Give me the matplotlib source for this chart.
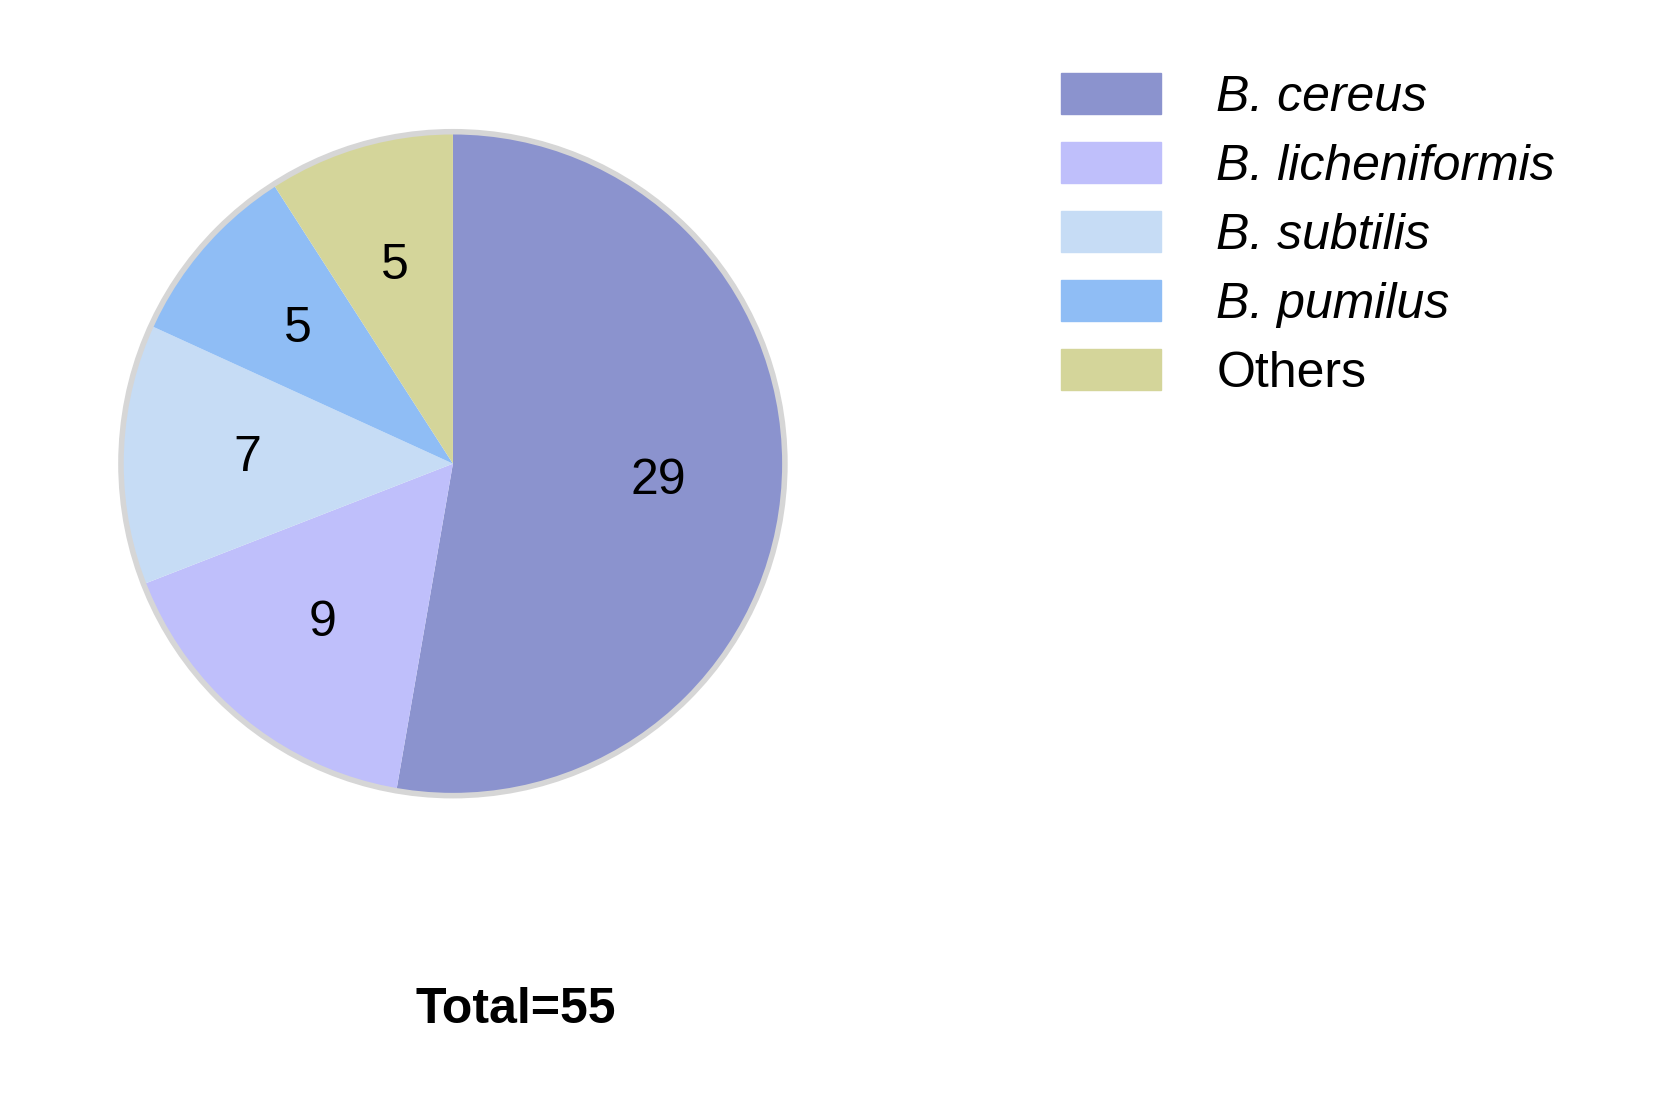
import matplotlib.pyplot as plt
import matplotlib.patches as mpatches

plt.rcParams['font.family'] = ['Liberation Sans', 'DejaVu Sans']

species = ['B. cereus', 'B. licheniformis', 'B. subtilis', 'B. pumilus', 'Others']
counts = [29, 9, 7, 5, 5]
colors = ['#8B93CE', '#BFBFFB', '#C6DCF5', '#8FBDF5', '#D4D59A']

fig = plt.figure(figsize=(16.8, 11.04), dpi=100)
ax = fig.add_axes([0.0226, 0.204, 0.494, 0.752])

wedges, texts, autotexts = ax.pie(
    counts, colors=colors, startangle=90, counterclock=False,
    autopct=lambda p: '%d' % round(p * sum(counts) / 100), pctdistance=0.62,
    textprops={'fontsize': 36, 'color': 'black'})
ax.add_patch(mpatches.Circle((0, 0), 1.0, fill=False, edgecolor='#D6D6D6', linewidth=4))
ax.set_aspect('equal')

handles = [mpatches.Patch(color=c) for c in colors]
leg = fig.legend(handles, species, loc='upper left', bbox_to_anchor=(0.605, 0.975),
                 frameon=False, fontsize=36, handlelength=2.0, handleheight=0.9,
                 handletextpad=1.1, labelspacing=0.42)
for t in leg.get_texts()[:4]:
    t.set_style('italic')

fig.text(0.307, 0.085, 'Total=55', fontsize=36, fontweight='bold', ha='center', va='center')

fig.savefig('out.png', dpi=100)
